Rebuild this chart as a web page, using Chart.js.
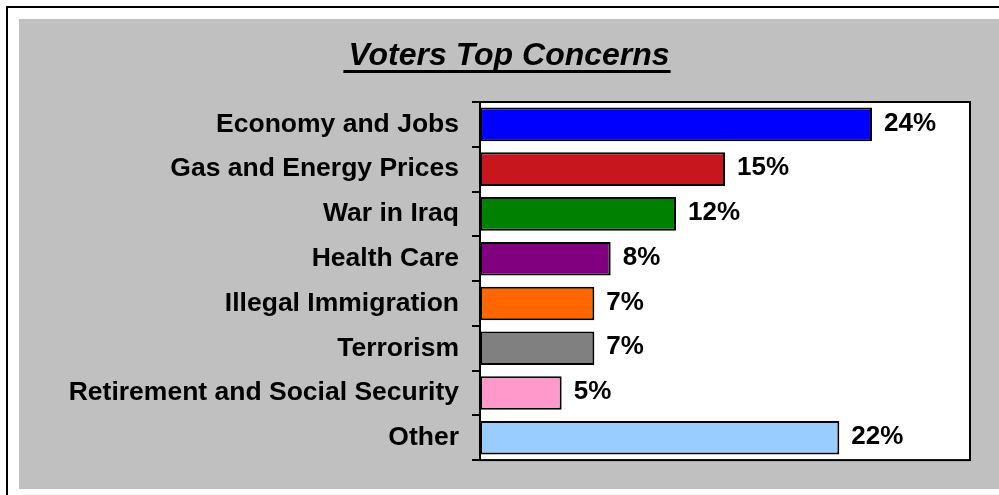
<!DOCTYPE html>
<html>
<head>
<meta charset="utf-8">
<script src="https://cdn.jsdelivr.net/npm/chart.js@4/dist/chart.umd.min.js"></script>
<style>
	html, body { margin:0; padding:0; background:#fff; width:999px; height:495px; overflow:hidden; }
	.frame { position:absolute; left:6px; top:6px; width:993px; height:489px; border-left:2px solid #000; border-top:2px solid #000; }
	.panel { position:absolute; left:19px; top:19px; width:980px; height:470px; background:#c0c0c0; }
</style>
</head>
<body>
<div class="frame"></div>
<div class="panel"><canvas id="myChart" width="980" height="470"></canvas></div>
<script>
let categories = ['Economy and Jobs', 'Gas and Energy Prices', 'War in Iraq', 'Health Care',
	'Illegal Immigration', 'Terrorism', 'Retirement and Social Security', 'Other'];
let values = [24, 15, 12, 8, 7, 7, 5, 22];
let barColors = ['#0000ff', '#c8161e', '#008000', '#800080', '#ff6600', '#808080', '#ff99cc', '#99ccff'];
let titleText = 'Voters Top Concerns';

let fontFamily = "'Liberation Sans', Arial, sans-serif";

/*plot area white box + border */
let plotBox = {
	id: 'plotBox',
	beforeDraw(chart){
		let a = chart.chartArea, ctx = chart.ctx;
		ctx.save();
		ctx.fillStyle = '#fff';
		ctx.fillRect(a.left, a.top, a.right - a.left, a.bottom - a.top);
		ctx.restore();
	},
	afterDraw(chart){
		let a = chart.chartArea, ctx = chart.ctx;
		ctx.save();
		ctx.strokeStyle = '#000';
		ctx.lineWidth = 2;
		ctx.strokeRect(a.left, a.top, a.right - a.left, a.bottom - a.top);
		// title underline
		ctx.font = 'italic bold 32px ' + fontFamily;
		let w = ctx.measureText(titleText).width;
		let cx = chart.width / 2;
		ctx.fillStyle = '#000';
		ctx.fillRect(cx - w / 2 - 5, 51, w + 6, 3);
		ctx.restore();
	}
};

/*value labels */
let valueLabels = {
	id: 'valueLabels',
	afterDatasetsDraw(chart){
		let ctx = chart.ctx;
		ctx.save();
		ctx.font = 'bold 26px ' + fontFamily;
		ctx.fillStyle = '#000';
		ctx.textBaseline = 'middle';
		chart.getDatasetMeta(0).data.forEach(function(bar, i){
			ctx.fillText(values[i] + '%', bar.x + 12, bar.y - 1);
		});
		ctx.restore();
	}
};

let data = {
	labels: categories,
	datasets: [{
		data: values,
		backgroundColor: barColors,
		borderColor: '#000',
		borderWidth: 2,
		borderSkipped: false,
		barPercentage: 0.75,
		categoryPercentage: 1
	}]
};

let config = {
	type: 'bar',
	data: data,
	options: {
		indexAxis: 'y',
		responsive: false,
		animation: false,
		layout: { padding: { left: 29, right: 29, top: 0, bottom: 24 } },
		plugins: {
			legend: { display: false },
			tooltip: { enabled: false },
			title: {
				display: true,
				text: titleText,
				color: '#000',
				font: { family: fontFamily, size: 32, weight: 'bold', style: 'italic' },
				padding: { top: 18, bottom: 26.6 }
			}
		},
		scales: {
			x: { display: false, min: 0, max: 30 },
			y: {
				offset: true,
				afterFit: function(s){ s.width = 432; },
				grid: { offset: true, drawOnChartArea: false, tickLength: 8, color: '#000', lineWidth: 2 },
				border: { display: true, color: '#000', width: 2 },
				ticks: { color: '#000', padding: 13, font: { family: fontFamily, size: 26.5, weight: 'bold' } }
			}
		}
	},
	plugins: [plotBox, valueLabels]
};

let myChart = new Chart(document.getElementById('myChart'), config);
</script>
</body>
</html>
